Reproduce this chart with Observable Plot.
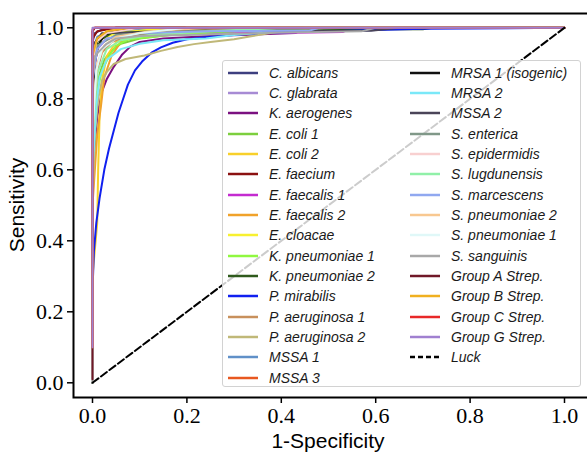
<!DOCTYPE html>
<html><head><meta charset="utf-8">
<script src="https://cdn.jsdelivr.net/npm/d3@7"></script>
<script src="https://cdn.jsdelivr.net/npm/@observablehq/plot@0.6"></script>
<style>
html,body{margin:0;padding:0;background:#fff;overflow:hidden;}
#wrap{position:relative;width:587px;height:454px;overflow:hidden;}
#chart svg{max-width:none !important;}
#chart svg g[aria-label$="tick label"] text{font-family:'Liberation Serif','Times New Roman',serif !important;font-size:22px !important;}
#legend{position:absolute;left:222px;top:60px;width:359px;height:327px;box-sizing:border-box;border:1px solid #d2d2d2;border-radius:3px;background:rgba(255,255,255,0.8);font-family:"Liberation Sans",Arial,sans-serif;font-style:italic;font-size:14px;color:#1a1a1a;}
.item{position:absolute;height:20px;display:flex;align-items:center;white-space:nowrap;}
.item svg{margin-right:11px;}
</style></head>
<body>
<div id="wrap"><div id="chart"></div><div id="legend"></div></div>
<script>
// ROC curve points [1-Specificity, Sensitivity]
const cAlbicans = [[0,0],[0,0.96],[0.005,0.985],[0.02,0.995],[0.05,1],[1,1]];
const cGlabrata = [[0,0],[0,0.9],[0.01,0.96],[0.03,0.985],[0.1,0.995],[0.2,1],[1,1]];
const kAerogenes = [[0,0],[0,0.6],[0.01,0.75],[0.02,0.82],[0.03,0.855],[0.045,0.89],[0.063,0.925],[0.08,0.947],[0.1,0.96],[0.15,0.97],[0.25,0.977],[0.43,0.985],[0.45,1],[1,1]];
const eColi1 = [[0,0],[0,0.55],[0.008,0.8],[0.015,0.87],[0.025,0.91],[0.04,0.935],[0.06,0.955],[0.1,0.97],[0.2,0.985],[0.35,0.993],[0.5,1],[1,1]];
const eColi2 = [[0,0],[0,0.3],[0.01,0.45],[0.012,0.6],[0.015,0.75],[0.02,0.85],[0.03,0.92],[0.05,0.96],[0.1,0.985],[0.2,0.995],[0.33,1],[1,1]];
const eFaecium = [[0,0],[0,0.97],[0.01,0.99],[0.05,1],[1,1]];
const eFaecalis1 = [[0,0],[0,0.85],[0.01,0.94],[0.03,0.97],[0.1,0.98],[0.25,0.984],[0.43,0.986],[0.53,0.988],[0.55,1],[1,1]];
const eFaecalis2 = [[0,0],[0,0.5],[0.01,0.7],[0.018,0.78],[0.025,0.86],[0.04,0.92],[0.06,0.96],[0.1,0.98],[0.2,0.99],[0.3,1],[1,1]];
const eCloacae = [[0,0],[0,0.8],[0.005,0.93],[0.02,0.97],[0.06,0.99],[0.15,0.997],[0.33,1],[1,1]];
const kPneumoniae1 = [[0,0],[0,0.6],[0.01,0.82],[0.02,0.88],[0.035,0.92],[0.05,0.95],[0.075,0.967],[0.15,0.978],[0.3,0.99],[0.4,1],[1,1]];
const kPneumoniae2 = [[0,0],[0,0.9],[0.01,0.96],[0.04,0.985],[0.15,0.992],[0.3,0.995],[0.7,0.996],[0.72,1],[1,1]];
const pMirabilis = [[0,0],[0,0.26],[0.003,0.37],[0.008,0.45],[0.015,0.52],[0.025,0.6],[0.035,0.66],[0.045,0.71],[0.055,0.76],[0.065,0.8],[0.075,0.84],[0.09,0.88],[0.105,0.905],[0.125,0.93],[0.145,0.945],[0.17,0.958],[0.2,0.968],[0.25,0.975],[0.35,0.985],[0.5,0.99],[0.7,0.997],[1,1]];
const pAeruginosa1 = [[0,0],[0,0.7],[0.01,0.88],[0.02,0.93],[0.04,0.96],[0.08,0.98],[0.2,0.99],[0.35,1],[1,1]];
const pAeruginosa2 = [[0,0],[0,0.5],[0.005,0.7],[0.012,0.8],[0.02,0.85],[0.03,0.875],[0.045,0.898],[0.07,0.912],[0.11,0.922],[0.145,0.935],[0.18,0.946],[0.215,0.954],[0.25,0.96],[0.3,0.968],[0.33,0.975],[0.38,0.986],[0.43,0.995],[0.5,1],[1,1]];
const mssa1 = [[0,0],[0,0.93],[0.01,0.975],[0.04,0.99],[0.12,1],[1,1]];
const mssa3 = [[0,0],[0,0.99],[0.003,1],[1,1]];
const mrsa1 = [[0,0],[0,0.8],[0.005,0.9],[0.012,0.95],[0.025,0.98],[0.06,0.995],[0.1,1],[1,1]];
const mrsa2 = [[0,0],[0,0.6],[0.008,0.78],[0.015,0.86],[0.03,0.91],[0.06,0.94],[0.1,0.955],[0.15,0.965],[0.24,0.97],[0.3,0.98],[0.38,0.988],[0.45,1],[1,1]];
const mssa2 = [[0,0],[0,0.95],[0.02,0.985],[0.2,0.99],[0.59,0.992],[0.65,1],[1,1]];
const sEnterica = [[0,0],[0,0.9],[0.01,0.95],[0.05,0.98],[0.2,0.99],[0.55,1],[1,1]];
const sEpidermidis = [[0,0],[0,0.9],[0.008,0.96],[0.03,0.985],[0.1,1],[1,1]];
const sLugdunensis = [[0,0],[0,0.7],[0.01,0.87],[0.03,0.94],[0.06,0.965],[0.12,0.98],[0.25,0.99],[0.4,1],[1,1]];
const sMarcescens = [[0,0],[0,0.85],[0.01,0.94],[0.03,0.97],[0.1,0.985],[0.25,0.99],[0.46,0.992],[0.48,1],[1,1]];
const sPneumoniae2 = [[0,0],[0,0.75],[0.01,0.9],[0.025,0.95],[0.05,0.975],[0.12,0.99],[0.25,1],[1,1]];
const sPneumoniae1 = [[0,0],[0,0.7],[0.008,0.88],[0.02,0.94],[0.05,0.97],[0.1,0.985],[0.2,1],[1,1]];
const sSanguinis = [[0,0],[0,0.85],[0.005,0.92],[0.015,0.935],[0.03,0.955],[0.05,0.97],[0.1,0.977],[0.2,0.98],[0.35,0.985],[0.57,0.99],[0.6,1],[1,1]];
const groupA = [[0,0.01],[0,0.99],[0.005,1],[1,1]];
const groupB = [[0,0.1],[0,0.92],[0.01,0.97],[0.03,0.99],[0.08,1],[1,1]];
const groupC = [[0,0.1],[0,0.995],[0.005,1],[1,1]];
const groupG = [[0,0.1],[0,1],[1,1]];
const luck = [[0,0],[1,1]];

const names = ["C. albicans","C. glabrata","K. aerogenes","E. coli 1","E. coli 2","E. faecium","E. faecalis 1","E. faecalis 2","E. cloacae","K. pneumoniae 1","K. pneumoniae 2","P. mirabilis","P. aeruginosa 1","P. aeruginosa 2","MSSA 1","MSSA 3","MRSA 1 (isogenic)","MRSA 2","MSSA 2","S. enterica","S. epidermidis","S. lugdunensis","S. marcescens","S. pneumoniae 2","S. pneumoniae 1","S. sanguinis","Group A Strep.","Group B Strep.","Group C Strep.","Group G Strep."];
const curves = [cAlbicans,cGlabrata,kAerogenes,eColi1,eColi2,eFaecium,eFaecalis1,eFaecalis2,eCloacae,kPneumoniae1,kPneumoniae2,pMirabilis,pAeruginosa1,pAeruginosa2,mssa1,mssa3,mrsa1,mrsa2,mssa2,sEnterica,sEpidermidis,sLugdunensis,sMarcescens,sPneumoniae2,sPneumoniae1,sSanguinis,groupA,groupB,groupC,groupG];
const colors = ["#3d3f7f","#a78bd4","#7b1080","#7ccf3e","#f8d02a","#8b1010","#c42bd0","#f0a22a","#f8f030","#90f840","#2f5a1c","#1020f0","#c8905c","#c0b878","#6090c8","#e85820","#101010","#7ae8f8","#4a4458","#809888","#f8d0d0","#90f0a8","#90a8f0","#f8c890","#e0f8f8","#a8a8a8","#701828","#f0b020","#e82828","#a080d0"];
const ticks = [0, 0.2, 0.4, 0.6, 0.8, 1.0];
const luckLabel = "Luck";

const rows = [];
curves.forEach((c, i) => c.forEach(([f, t]) => rows.push({name: names[i], fpr: f, tpr: t})));
const luckRows = luck.map(([f, t]) => ({fpr: f, tpr: t}));

const serif = "'Liberation Serif', 'Times New Roman', serif";
const W = 595, H = 454;
const plot = Plot.plot({
  width: W, height: H,
  marginLeft: 73, marginTop: 13, marginBottom: 57, marginRight: 0,
  style: {fontFamily: serif, fontSize: "22px", color: "#000", background: "#fff", maxWidth: "none"},
  x: {domain: [0, 1], range: [92, 564]},
  y: {domain: [0, 1], range: [382.3, 27.3]},
  color: {domain: names, range: colors},
  marks: [
    Plot.line(rows, {x: "fpr", y: "tpr", z: "name", stroke: "name", strokeWidth: 2}),
    Plot.line(luckRows, {x: "fpr", y: "tpr", stroke: "#000", strokeWidth: 2, strokeDasharray: "7.4,3.2"}),
    Plot.frame({stroke: "#000", strokeWidth: 2}),
    Plot.axisX({ticks, tickFormat: d3.format(".1f"), tickSize: 6, tickPadding: 4, label: null, fontSize: 22, strokeWidth: 1.5}),
    Plot.axisY({ticks, tickFormat: d3.format(".1f"), tickSize: 6, tickPadding: 4, label: null, fontSize: 22, strokeWidth: 1.5})
  ]
});
document.getElementById("chart").appendChild(plot);

// force serif tick labels
plot.querySelectorAll("text").forEach(t => {
  if (/^\d\.\d$/.test(t.textContent.trim())) {
    t.style.setProperty("font-family", serif, "important");
    t.style.setProperty("font-size", "22px", "important");
  }
});

const svg = d3.select(plot);
svg.append("text").attr("x", 328).attr("y", 448).attr("text-anchor", "middle")
  .style("font-family", "'Liberation Sans', Arial, sans-serif").style("font-size", "21px").attr("fill", "#000")
  .text("1-Specificity");
svg.append("text").attr("transform", "translate(24,205) rotate(-90)").attr("text-anchor", "middle")
  .style("font-family", "'Liberation Sans', Arial, sans-serif").style("font-size", "21px").attr("fill", "#000")
  .text("Sensitivity");

// legend (two columns, column-major like the original)
const legend = d3.select("#legend");
const entries = names.map((n, i) => ({label: n, color: colors[i], dash: null}));
entries.push({label: luckLabel, color: "#000", dash: "5,3"});
const perCol = Math.ceil(entries.length / 2);
entries.forEach((e, i) => {
  const col = Math.floor(i / perCol), row = i % perCol;
  const item = legend.append("div").attr("class", "item")
    .style("left", (col === 0 ? 5 : 187) + "px")
    .style("top", (1.7 + row * 20.33) + "px");
  const s = item.append("svg").attr("width", 30).attr("height", 6);
  s.append("line").attr("x1", 0).attr("x2", 30).attr("y1", 3).attr("y2", 3)
    .attr("stroke", e.color).attr("stroke-width", 2.5).attr("stroke-dasharray", e.dash);
  item.append("span").text(e.label);
});
</script>
</body></html>
